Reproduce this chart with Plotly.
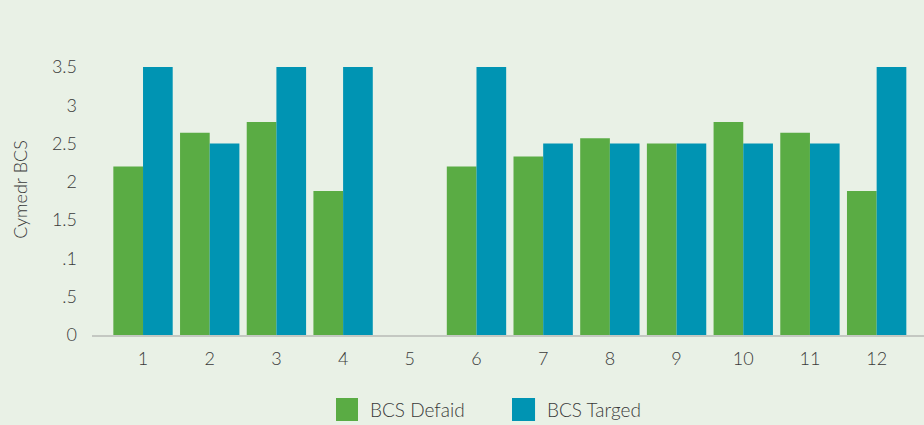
import plotly.graph_objects as go

categories = [1, 2, 3, 4, 5, 6, 7, 8, 9, 10, 11, 12]
cat_labels = ["1", "2", "3", "4", "5", "6", "7", "8", "9", "10", "11", "12"]
bcs_defaid = [2.2, 2.64, 2.78, 1.88, None, 2.2, 2.33, 2.57, 2.5, 2.78, 2.64, 1.88]
bcs_targed = [3.5, 2.5, 3.5, 3.5, None, 3.5, 2.5, 2.5, 2.5, 2.5, 2.5, 3.5]
ytick_vals = [0, 0.5, 1, 1.5, 2, 2.5, 3, 3.5]
ytick_text = ["0", ".5", ".1", "1.5", "2", "2.5", "3", "3.5"]
series_names = ["BCS Defaid", "BCS Targed"]
series_colors = ["#5aac44", "#0094b3"]

BG = "#e9f1e6"
TXT = "#3a3a3a"
FONT = "Lato, 'Open Sans', sans-serif"

fig = go.Figure()
for name, vals, col in zip(series_names, [bcs_defaid, bcs_targed], series_colors):
    fig.add_trace(go.Bar(x=categories, y=vals, name=name, showlegend=False,
                         marker=dict(color=col, line=dict(width=0))))

# custom legend (large square swatches)
leg_sq = [(0.2933, 0.3197), (0.5048, 0.5325)]
leg_tx = [0.3317, 0.5445]
for (x0, x1), tx, name, col in zip(leg_sq, leg_tx, series_names, series_colors):
    fig.add_shape(type="rect", xref="paper", yref="paper", x0=x0, x1=x1,
                  y0=-0.2955, y1=-0.2165, fillcolor=col, line=dict(width=0))
    fig.add_annotation(xref="paper", yref="paper", x=tx, y=-0.2543, text=name,
                       showarrow=False, xanchor="left", yanchor="middle",
                       font=dict(size=19, color=TXT, family=FONT, weight=300))

fig.update_layout(
    width=924, height=425,
    paper_bgcolor=BG, plot_bgcolor=BG,
    barmode="group", bargap=0.11, bargroupgap=0,
    margin=dict(l=92, r=0, t=44, b=90),
    font=dict(family=FONT, size=18, color=TXT, weight=300),
    showlegend=False,
    xaxis=dict(
        range=[0.235, 12.71], tickvals=categories, ticktext=cat_labels,
        showgrid=False, zeroline=False, showline=True, linecolor="#c4c8c2", linewidth=2,
        ticks="", ticklabelstandoff=6, tickfont=dict(size=18, color=TXT, weight=300),
    ),
    yaxis=dict(
        range=[0, 3.8], tickvals=ytick_vals, ticktext=ytick_text,
        showgrid=False, zeroline=False, showline=False, ticks="",
        ticklabelstandoff=14, tickfont=dict(size=18, color=TXT, weight=300),
        title=dict(text="Cymedr BCS", font=dict(size=18, color=TXT, weight=300), standoff=19),
    ),
)

fig.write_html("out.html", config={"displayModeBar": False},
               post_script="document.body.style.margin='0';document.body.style.padding='0';document.body.style.background='#e9f1e6';")
